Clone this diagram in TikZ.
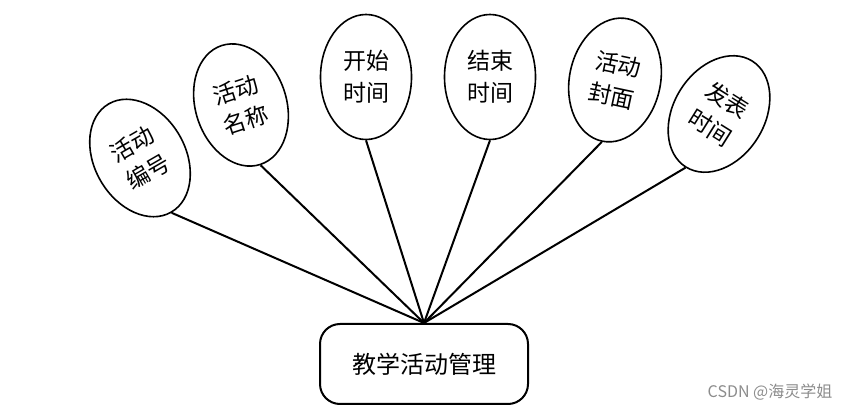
\documentclass[tikz,border=0pt]{standalone}
\usepackage{fontspec}
\setmainfont{Noto Sans CJK SC}
\usepackage{tikz}
\usetikzlibrary{shapes.geometric}

\begin{document}
\begin{tikzpicture}[x=0.5pt, y=-0.5pt]
    \tikzstyle{attr}=[draw, ellipse, line width=0.8pt, inner sep=0pt, minimum width=45.5pt, minimum height=62.5pt, align=center, font=\fontsize{11.5}{16}\selectfont]
    \tikzstyle{ent}=[draw, rounded corners=10pt, line width=1pt, minimum width=104pt, minimum height=40pt, font=\fontsize{12}{14}\selectfont]
    \useasboundingbox (0,0) rectangle (845,410);
    \node[ent] (mgr) at (424,364) {教学活动管理};
    \node[attr, rotate=30] (id) at (140,158) {活动\\编号};
    \node[attr, rotate=18] (name) at (241,105) {活动\\名称};
    \node[attr] (start) at (366,77) {开始\\时间};
    \node[attr] (end) at (490,77) {结束\\时间};
    \node[attr, rotate=-12] (cover) at (615,80) {活动\\封面};
    \node[attr, rotate=-32] (pub) at (719,114) {发表\\时间};
    \foreach \n in {id,name,start,end,cover,pub}
        \draw[line width=1pt] (mgr.north) -- (\n.south);
    \node[text=black!45, font=\fontsize{8}{10}\selectfont] (mark) at (770,392) {CSDN @海灵学姐};
\end{tikzpicture}
\end{document}
